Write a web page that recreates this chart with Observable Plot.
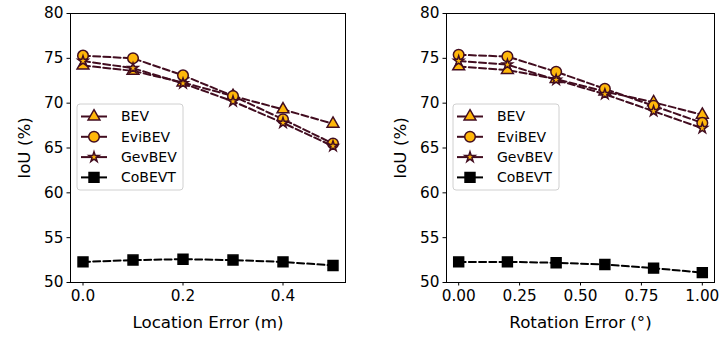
<!DOCTYPE html>
<html>
<head>
<meta charset="utf-8">
<script src="https://cdn.jsdelivr.net/npm/d3@7"></script>
<script src="https://cdn.jsdelivr.net/npm/@observablehq/plot@0.6"></script>
<style>
  html, body { margin: 0; padding: 0; background: white; }
  #wrap { position: relative; width: 721px; height: 337px; display: flex; font-family: "DejaVu Sans", sans-serif; }
  #wrap svg { display: block; }
  .legend { position: absolute; top: 0; left: 0; }
</style>
</head>
<body>
<div id="wrap"></div>
<script>
// ---- data ----
const seriesNames = ["BEV", "EviBEV", "GevBEV", "CoBEVT"];

const locationError = [0, 0.1, 0.2, 0.3, 0.4, 0.5];
const locBEV    = [74.2, 73.6, 72.3, 70.8, 69.3, 67.7];
const locEviBEV = [75.3, 75.0, 73.1, 70.8, 68.2, 65.5];
const locGevBEV = [74.7, 73.9, 72.2, 70.2, 67.8, 65.2];
const locCoBEVT = [52.3, 52.5, 52.6, 52.5, 52.3, 51.9];

const rotationError = [0, 0.2, 0.4, 0.6, 0.8, 1.0];
const rotBEV    = [74.1, 73.7, 72.7, 71.3, 70.1, 68.7];
const rotEviBEV = [75.4, 75.2, 73.5, 71.6, 69.7, 67.8];
const rotGevBEV = [74.7, 74.3, 72.6, 71.0, 69.1, 67.2];
const rotCoBEVT = [52.3, 52.3, 52.2, 52.0, 51.6, 51.1];

const yTicks = [50, 55, 60, 65, 70, 75, 80];
const locTicks = [0, 0.2, 0.4];
const rotTicks = [0, 0.25, 0.5, 0.75, 1.0];

// ---- styles ----
const maroon = "#420d20";
const gold = "#ffb70a";
const styleOf = {
  BEV:    {symbol: "triangle", r: 4.4, fill: gold, stroke: maroon, line: maroon},
  EviBEV: {symbol: "circle",   r: 5.3, fill: gold, stroke: maroon, line: maroon},
  GevBEV: {symbol: "star",     r: 3.2, fill: gold, stroke: maroon, line: maroon},
  CoBEVT: {symbol: "square",   r: 5.6, fill: "black", stroke: "black", line: "black"}
};

function panel(xs, vals, opts) {
  const marks = [
    Plot.frame({stroke: "black", strokeWidth: 1}),
    Plot.axisY({ticks: yTicks, tickSize: 3.5, tickPadding: 3.5, fontSize: 15.3, label: null}),
    Plot.axisX({ticks: opts.ticks, tickFormat: opts.format, tickSize: 3.5, tickPadding: 4,
      fontSize: 15.3, label: null}),
    Plot.axisY({ticks: [], tickSize: 0, label: "IoU (%)", labelAnchor: "center", labelOffset: 52,
      labelArrow: "none", fontSize: 16.7}),
    Plot.axisX({ticks: [], tickSize: 0, label: opts.label, labelAnchor: "center", labelOffset: 45,
      labelArrow: "none", fontSize: 16.7})
  ];
  seriesNames.forEach((name, i) => {
    const s = styleOf[name];
    const rows = xs.map((x, j) => ({x, y: vals[i][j]}));
    marks.push(Plot.line(rows, {x: "x", y: "y", stroke: s.line, strokeWidth: 2, strokeDasharray: "7,3.2"}));
    marks.push(Plot.dot(rows, {x: "x", y: "y", symbol: () => s.symbol, r: s.r, fill: s.fill,
      stroke: s.stroke, strokeWidth: 1.5}));
  });
  return Plot.plot({
    width: opts.width, height: 337,
    marginLeft: 70, marginRight: opts.marginRight, marginTop: 13, marginBottom: 55,
    style: {fontFamily: "DejaVu Sans", fontSize: "15.3px", color: "black", background: "white", overflow: "visible"},
    x: {domain: opts.domain},
    y: {domain: [50, 80]},
    symbol: {type: "identity"},
    marks
  });
}

const wrap = document.getElementById("wrap");
const left = panel(locationError, [locBEV, locEviBEV, locGevBEV, locCoBEVT], {
  width: 376, marginRight: 31, domain: [-0.025, 0.525], ticks: locTicks,
  format: d3.format(".1f"), label: "Location Error (m)"
});
const right = panel(rotationError, [rotBEV, rotEviBEV, rotGevBEV, rotCoBEVT], {
  width: 345, marginRight: 7, domain: [-0.05, 1.05], ticks: rotTicks,
  format: d3.format(".2f"), label: "Rotation Error (°)"
});
wrap.appendChild(left);
wrap.appendChild(right);

// ---- legends ----
const symMap = {triangle: d3.symbolTriangle, circle: d3.symbolCircle, star: d3.symbolStar, square: d3.symbolSquare};
const svg = d3.select(wrap).append("svg").attr("class", "legend")
  .attr("width", 721).attr("height", 337);
[77, 453].forEach(x0 => {
  const g = svg.append("g").attr("transform", `translate(${x0},104)`);
  g.append("rect").attr("width", 106).attr("height", 86).attr("rx", 3)
    .attr("fill", "white").attr("fill-opacity", 0.8).attr("stroke", "#d0d0d0").attr("stroke-width", 1);
  seriesNames.forEach((name, i) => {
    const s = styleOf[name];
    const y = 12.5 + i * 20.3;
    g.append("line").attr("x1", 4).attr("x2", 30).attr("y1", y).attr("y2", y)
      .attr("stroke", s.line).attr("stroke-width", 2);
    g.append("path").attr("d", d3.symbol(symMap[s.symbol], Math.PI * s.r * s.r)())
      .attr("transform", `translate(17,${y})`).attr("fill", s.fill).attr("stroke", s.stroke).attr("stroke-width", 1.5);
    g.append("text").attr("x", 44).attr("y", y).attr("dy", "0.35em")
      .attr("font-family", "DejaVu Sans").attr("font-size", 14).text(name);
  });
});
</script>
</body>
</html>
